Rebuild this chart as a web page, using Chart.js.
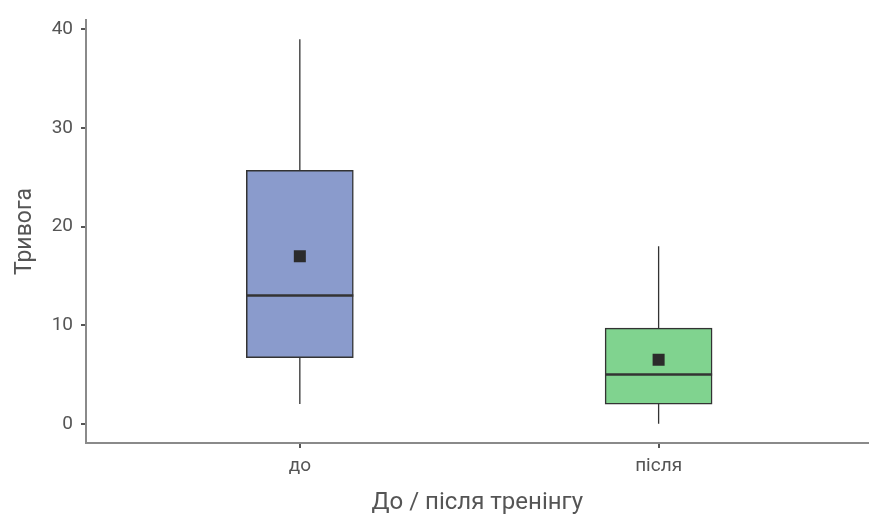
<!DOCTYPE html>
<html>
<head>
<meta charset="utf-8">
<script src="https://cdn.jsdelivr.net/npm/chart.js@4/dist/chart.umd.min.js"></script>
<style>
  html, body { margin: 0; padding: 0; background: #fff; overflow: hidden; }
  #wrap { width: 877px; height: 517px; }
</style>
</head>
<body>
<div id="wrap"><canvas id="boxChart"></canvas></div>
<script>
// data
var categories = ['до', 'після'];
var whiskerLow = [2, 0];
var q1 = [6.7, 2];
var medians = [13, 5];
var q3 = [25.7, 9.7];
var whiskerHigh = [39, 18];
var means = [17, 6.5];
var yTicks = [0, 10, 20, 30, 40];
var boxColors = ['#8a9bcc', '#80d38f'];

var fontFamily = 'Roboto, "Liberation Sans", sans-serif';

// whiskers under the boxes, medians over them
var boxExtras = {
    id: 'boxExtras',
    beforeDatasetsDraw: function(chart) {
        var ctx = chart.ctx, x = chart.scales.x, y = chart.scales.y;
        ctx.save();
        ctx.strokeStyle = '#333';
        ctx.lineWidth = 1.3;
        for (var i = 0; i < categories.length; i++) {
            var px = x.getPixelForValue(i + 1);
            ctx.beginPath();
            ctx.moveTo(px, y.getPixelForValue(whiskerLow[i]));
            ctx.lineTo(px, y.getPixelForValue(q1[i]));
            ctx.moveTo(px, y.getPixelForValue(q3[i]));
            ctx.lineTo(px, y.getPixelForValue(whiskerHigh[i]));
            ctx.stroke();
        }
        ctx.restore();
    },
    afterDatasetsDraw: function(chart) {
        var ctx = chart.ctx, x = chart.scales.x, y = chart.scales.y;
        var half = 107 / 2;
        ctx.save();
        ctx.strokeStyle = '#333';
        ctx.lineWidth = 2.5;
        for (var i = 0; i < categories.length; i++) {
            var px = x.getPixelForValue(i + 1);
            var py = y.getPixelForValue(medians[i]);
            ctx.beginPath();
            ctx.moveTo(px - half, py);
            ctx.lineTo(px + half, py);
            ctx.stroke();
        }
        ctx.restore();
    }
};

var boxData = categories.map(function(c, i) { return { x: i + 1, y: [q1[i], q3[i]] }; });
var meanData = categories.map(function(c, i) { return { x: i + 1, y: means[i] }; });

new Chart(document.getElementById('boxChart'), {
    type: 'bar',
    data: {
        datasets: [{
            type: 'line',
            data: meanData,
            showLine: false,
            pointStyle: 'rect',
            pointRadius: 8.5,
            pointBackgroundColor: '#2b2b2b',
            pointBorderColor: '#2b2b2b',
            pointBorderWidth: 0,
            order: 0
        }, {
            data: boxData,
            backgroundColor: boxColors,
            borderColor: '#333',
            borderWidth: 1.5,
            borderSkipped: false,
            barThickness: 107,
            order: 1
        }]
    },
    plugins: [boxExtras],
    options: {
        responsive: true,
        maintainAspectRatio: false,
        animation: false,
        layout: { padding: { top: 20, right: 0, left: 0, bottom: 0 } },
        plugins: {
            legend: { display: false },
            tooltip: { enabled: false }
        },
        scales: {
            x: {
                type: 'linear',
                min: 0.404,
                max: 2.585,
                offset: false,
                afterBuildTicks: function(scale) {
                    scale.ticks = categories.map(function(c, i) { return { value: i + 1 }; });
                },
                afterFit: function(scale) { scale.height = 74; },
                ticks: {
                    callback: function(v) { return categories[v - 1]; },
                    color: '#555',
                    font: { family: fontFamily, size: 19 },
                    padding: 7
                },
                grid: { offset: false, drawOnChartArea: false, drawTicks: true, tickLength: 5, color: '#555', lineWidth: 2 },
                border: { color: '#8a8a8a', width: 2 },
                title: {
                    display: true,
                    text: 'До / після тренінгу',
                    color: '#555',
                    font: { family: fontFamily, size: 24 },
                    padding: { top: 0, bottom: 0 }
                }
            },
            y: {
                min: -1.95,
                max: 40.95,
                afterBuildTicks: function(scale) {
                    scale.ticks = yTicks.map(function(v) { return { value: v }; });
                },
                afterFit: function(scale) { scale.width = 86; },
                ticks: {
                    color: '#555',
                    font: { family: fontFamily, size: 19 },
                    padding: 8
                },
                grid: { drawOnChartArea: false, drawTicks: true, tickLength: 5, color: '#555', lineWidth: 2 },
                border: { color: '#8a8a8a', width: 2 },
                title: {
                    display: true,
                    text: 'Тривога',
                    color: '#555',
                    font: { family: fontFamily, size: 23 },
                    padding: { top: 11, bottom: 0 }
                }
            }
        }
    }
});
</script>
</body>
</html>
